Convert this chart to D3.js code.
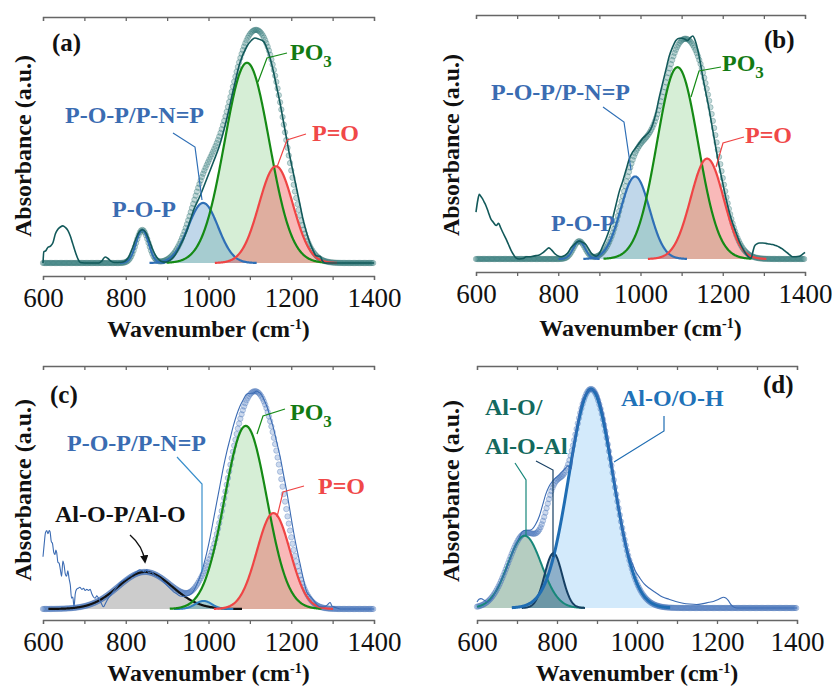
<!DOCTYPE html>
<html>
<head>
<meta charset="utf-8">
<script src="https://cdn.jsdelivr.net/npm/d3@7"></script>
<style>
  body { margin: 0; background: #fff; }
  svg { display: block; }
  text { font-family: "Liberation Serif", "Times New Roman", serif; }
</style>
</head>
<body>
<svg id="fig" width="832" height="688"></svg>
<script>
// ---- Wavenumber axis (cm-1) ----
const xDomain = [600, 1400];
const xTicks = [600, 800, 1000, 1200, 1400];
const xMinorTicks = [700, 900, 1100, 1300];

// ---- (a) measured spectrum [wavenumber, normalised absorbance] ----
const specA = [[600,0],[602,0.05],[607,0.055],[612,0.07],[618,0.075],[624,0.09],[630,0.13],[636,0.15],[642,0.16],[648,0.165],[654,0.158],[660,0.145],[666,0.12],[672,0.085],[678,0.05],[684,0.02],[690,0.002],[700,0],[735,0],[742,0.008],[750,0.027],[757,0.02],[764,0.008],[772,0.002],[790,0.003],[805,0.02],[815,0.06],[825,0.11],[833,0.14],[840,0.148],[848,0.138],[856,0.105],[865,0.06],[875,0.025],[885,0.008],[895,0.004],[905,0.01],[915,0.025],[930,0.07],[947,0.14],[965,0.24],[980,0.30],[995,0.37],[1012,0.45],[1028,0.53],[1044,0.64],[1060,0.77],[1076,0.89],[1092,0.96],[1104,0.99],[1112,1.0],[1122,0.995],[1133,0.985],[1142,0.95],[1149,0.91],[1157,0.85],[1165,0.78],[1173,0.71],[1181,0.63],[1189,0.55],[1197,0.47],[1205,0.40],[1213,0.33],[1221,0.26],[1229,0.19],[1237,0.135],[1245,0.09],[1253,0.055],[1260,0.032],[1266,0.03],[1270,0.03],[1275,0.01],[1282,0],[1400,0]];
// (a) fitted bands: P-O-P, P-O-P/P-N=P, PO3, P=O
const bandCenterA = [840, 987, 1093, 1163];
const bandHeightA = [0.147, 0.267, 0.89, 0.43];
const bandSigmaA  = [15, 36, 54, 41];

// ---- (b) ----
const specB = [[600,0.21],[604,0.26],[608,0.29],[612,0.28],[616,0.27],[620,0.255],[624,0.24],[630,0.21],[636,0.18],[642,0.165],[649,0.15],[655,0.16],[660,0.14],[665,0.12],[673,0.09],[679,0.065],[685,0.04],[691,0.02],[697,0.005],[705,0],[715,0.002],[722,0.01],[730,0.01],[738,0.012],[746,0.015],[754,0.018],[762,0.027],[770,0.04],[777,0.05],[784,0.04],[790,0.027],[798,0.015],[807,0.01],[815,0.015],[823,0.027],[831,0.05],[839,0.065],[845,0.075],[851,0.08],[859,0.075],[867,0.065],[874,0.045],[880,0.027],[886,0.018],[892,0.012],[900,0.025],[908,0.057],[916,0.09],[924,0.13],[932,0.18],[940,0.24],[948,0.30],[957,0.35],[965,0.40],[973,0.45],[981,0.48],[989,0.50],[997,0.52],[1005,0.54],[1013,0.555],[1021,0.57],[1029,0.60],[1037,0.65],[1045,0.72],[1054,0.79],[1062,0.85],[1070,0.91],[1078,0.95],[1086,0.98],[1094,0.99],[1102,0.99],[1108,0.985],[1114,0.98],[1120,0.99],[1127,1.0],[1133,0.98],[1139,0.94],[1145,0.885],[1151,0.82],[1159,0.745],[1167,0.67],[1175,0.585],[1183,0.50],[1191,0.42],[1200,0.34],[1208,0.27],[1216,0.21],[1224,0.16],[1232,0.12],[1240,0.08],[1248,0.05],[1254,0.03],[1260,0.015],[1265,0.006],[1269,0.004],[1273,0.03],[1277,0.057],[1283,0.068],[1289,0.072],[1297,0.072],[1305,0.07],[1313,0.067],[1321,0.065],[1329,0.06],[1337,0.054],[1345,0.045],[1353,0.033],[1362,0.02],[1370,0.01],[1378,0.01],[1386,0.012],[1393,0.02],[1400,0.03]];
const bandCenterB = [851, 987, 1090, 1162];
const bandHeightB = [0.08, 0.37, 0.86, 0.45];
const bandSigmaB  = [14, 35, 50, 40];

// ---- (c) ----
const specC = [[600,0.24],[603,0.30],[606,0.35],[609,0.36],[612,0.345],[615,0.36],[617,0.355],[620,0.31],[623,0.30],[626,0.26],[629,0.25],[631,0.27],[633,0.26],[636,0.215],[639,0.21],[642,0.18],[645,0.15],[648,0.22],[651,0.2],[654,0.16],[657,0.15],[660,0.175],[663,0.14],[666,0.11],[669,0.05],[672,0.055],[675,0.01],[678,0.07],[681,0.09],[685,0.095],[689,0.1],[694,0.09],[698,0.095],[702,0.085],[706,0.09],[710,0.085],[714,0.09],[718,0.07],[722,0.055],[726,0.05],[730,0.06],[734,0.05],[740,0.03],[746,0.01],[752,0.03],[758,0.05],[764,0.065],[770,0.08],[778,0.1],[786,0.12],[794,0.13],[802,0.14],[810,0.15],[818,0.16],[826,0.17],[834,0.18],[840,0.175],[846,0.17],[851,0.18],[856,0.165],[862,0.17],[867,0.16],[875,0.15],[883,0.14],[891,0.125],[899,0.11],[907,0.095],[915,0.08],[923,0.07],[931,0.06],[939,0.058],[947,0.06],[955,0.065],[963,0.08],[971,0.11],[980,0.15],[988,0.2],[996,0.26],[1004,0.33],[1012,0.41],[1020,0.49],[1028,0.57],[1036,0.65],[1044,0.72],[1052,0.78],[1060,0.84],[1068,0.89],[1076,0.93],[1084,0.96],[1092,0.985],[1100,0.99],[1108,0.99],[1112,0.995],[1117,1.0],[1121,0.995],[1125,0.99],[1133,0.965],[1141,0.93],[1149,0.88],[1157,0.83],[1165,0.765],[1173,0.70],[1181,0.62],[1189,0.54],[1197,0.45],[1205,0.36],[1213,0.28],[1221,0.21],[1229,0.14],[1237,0.08],[1245,0.06],[1254,0.04],[1262,0.02],[1270,0.01],[1280,0.01],[1288,0.02],[1294,0.03],[1298,0.015],[1302,0.01],[1310,0.005],[1318,0],[1400,0]];
// Al-O-P/Al-O, P-O-P/P-N=P, PO3, P=O
const bandCenterC = [847, 988, 1090, 1157];
const bandHeightC = [0.17, 0.037, 0.84, 0.44];
const bandSigmaC  = [65, 20, 51, 40];

// ---- (d) ----
const specD = [[600,0.027],[605,0.04],[610,0.043],[614,0.04],[618,0.035],[623,0.03],[627,0.027],[633,0.035],[640,0.05],[648,0.08],[656,0.11],[664,0.14],[672,0.17],[680,0.21],[688,0.25],[697,0.29],[705,0.32],[714,0.35],[722,0.355],[730,0.355],[738,0.36],[746,0.38],[756,0.42],[764,0.47],[772,0.52],[780,0.555],[789,0.58],[797,0.595],[806,0.61],[814,0.625],[822,0.64],[828,0.65],[832,0.63],[836,0.64],[839,0.70],[845,0.78],[852,0.85],[858,0.91],[864,0.95],[871,0.975],[877,0.99],[885,1.0],[891,0.995],[897,0.99],[904,0.965],[910,0.93],[916,0.885],[922,0.83],[929,0.76],[935,0.69],[941,0.615],[947,0.54],[954,0.46],[960,0.40],[966,0.34],[972,0.29],[980,0.24],[989,0.20],[997,0.165],[1006,0.14],[1018,0.11],[1031,0.09],[1047,0.07],[1064,0.05],[1080,0.04],[1097,0.03],[1115,0.022],[1131,0.018],[1149,0.016],[1165,0.02],[1180,0.026],[1191,0.03],[1200,0.036],[1208,0.043],[1216,0.049],[1222,0.046],[1228,0.035],[1235,0.015],[1242,0.004],[1250,0],[1400,0]];
// Al-O/O-H, Al-O/Al-O-Al (two bands)
const bandCenterD = [885, 719, 791];
const bandHeightD = [1.0, 0.33, 0.25];
const bandSigmaD  = [55, 42, 22];

// ---------------------------------------------------------------
const gauss = (x, c, h, s) => h * Math.exp(-((x - c) ** 2) / (2 * s * s));
const fitStep = 3;

const teal = { line: "#12595a", dotFill: "#3d8585", dotStroke: "#2b6e6e" };
const blueD = { line: "#3b6bb3", dotFill: "#5b86c6", dotStroke: "#3e6cb0" };

const panels = [
  {
    spec: specA, centers: bandCenterA, heights: bandHeightA, sigmas: bandSigmaA,
    x0: 43, x1: 374, base: 263, top: 38, axTop: 17, axBot: 276,
    style: teal, lineW: 1.6,
    bands: [
      { stroke: "#2f6fb6", fill: null, w: 2 },
      { stroke: "#2f6fb6", fill: "rgba(90,150,200,0.38)", w: 2.2 },
      { stroke: "#158a15", fill: "rgba(120,200,120,0.30)", w: 2.2 },
      { stroke: "#ef4545", fill: "rgba(240,70,70,0.38)", w: 2.2 }
    ],
    fillOrder: [2, 1, 3], lineOrder: [0, 1, 2, 3],
    tag: { t: "(a)", x: 52, y: 51 },
    labels: [
      { parts: [["P-O-P/P-N=P"]], x: 65, y: 123, c: "#3a6cb2" },
      { parts: [["P-O-P"]], x: 112, y: 217, c: "#3a6cb2" },
      { parts: [["PO"], ["3", true]], x: 290, y: 60, c: "#137a13" },
      { parts: [["P=O"]], x: 312, y: 141, c: "#f04848" }
    ],
    leaders: [
      { p: [[173,133],[195,147],[202,200]], c: "#2f6fb6" },
      { p: [[287,53],[267,58],[258,82]], c: "#158a15" },
      { p: [[306,134],[287,140],[277,167]], c: "#ef4545" }
    ],
    ylab: { x: 31, y: 146 }, xlabY: 337
  },
  {
    spec: specB, centers: bandCenterB, heights: bandHeightB, sigmas: bandSigmaB,
    x0: 476, x1: 805, base: 259, top: 36, axTop: 15, axBot: 272,
    style: teal, lineW: 1.6,
    bands: [
      { stroke: "#2f6fb6", fill: null, w: 2 },
      { stroke: "#2f6fb6", fill: "rgba(90,150,200,0.38)", w: 2.2 },
      { stroke: "#158a15", fill: "rgba(120,200,120,0.30)", w: 2.2 },
      { stroke: "#ef4545", fill: "rgba(240,70,70,0.38)", w: 2.2 }
    ],
    fillOrder: [2, 1, 3], lineOrder: [0, 1, 2, 3],
    tag: { t: "(b)", x: 764, y: 48 },
    labels: [
      { parts: [["P-O-P/P-N=P"]], x: 491, y: 100, c: "#3a6cb2" },
      { parts: [["P-O-P"]], x: 551, y: 231, c: "#3a6cb2" },
      { parts: [["PO"], ["3", true]], x: 722, y: 71, c: "#137a13" },
      { parts: [["P=O"]], x: 745, y: 143, c: "#f04848" }
    ],
    leaders: [
      { p: [[603,107],[624,122],[631,170]], c: "#2f6fb6" },
      { p: [[721,67],[699,71],[691,97]], c: "#158a15" },
      { p: [[744,137],[723,143],[716,167]], c: "#ef4545" }
    ],
    ylab: { x: 459, y: 145 }, xlabY: 336
  },
  {
    spec: specC, centers: bandCenterC, heights: bandHeightC, sigmas: bandSigmaC,
    x0: 43, x1: 374, base: 609, top: 391, axTop: 366, axBot: 620,
    style: blueD, lineW: 1.1,
    bands: [
      { stroke: "#111111", fill: "rgba(120,120,120,0.38)", w: 2.2 },
      { stroke: "#2f7fc0", fill: "rgba(90,150,200,0.38)", w: 2 },
      { stroke: "#158a15", fill: "rgba(120,200,120,0.30)", w: 2.2 },
      { stroke: "#ef4545", fill: "rgba(240,70,70,0.38)", w: 2.2 }
    ],
    fillOrder: [0, 2, 1, 3], lineOrder: [0, 1, 2, 3],
    tag: { t: "(c)", x: 50, y: 403 },
    labels: [
      { parts: [["P-O-P/P-N=P"]], x: 67, y: 451, c: "#3a6cb2" },
      { parts: [["PO"], ["3", true]], x: 290, y: 420, c: "#137a13" },
      { parts: [["P=O"]], x: 318, y: 494, c: "#f04848" },
      { parts: [["Al-O-P/Al-O"]], x: 55, y: 522, c: "#111111" }
    ],
    leaders: [
      { p: [[177,457],[202,484],[202,572]], c: "#3a8fcc" },
      { p: [[285,409],[263,416],[257,434]], c: "#158a15" },
      { p: [[304,486],[283,492],[277,517]], c: "#ef4545" }
    ],
    arrow: "M130,535 Q143,546 145,562",
    ylab: { x: 31, y: 490 }, xlabY: 681
  },
  {
    spec: specD, centers: bandCenterD, heights: bandHeightD, sigmas: bandSigmaD,
    x0: 477, x1: 797, base: 608, top: 389, axTop: 366, axBot: 620,
    style: blueD, lineW: 1.1,
    bands: [
      { stroke: "#1f6db3", fill: "rgba(140,200,245,0.38)", w: 3 },
      { stroke: "#17877a", fill: "rgba(70,130,100,0.40)", w: 2 },
      { stroke: "#163f63", fill: "rgba(40,90,130,0.40)", w: 2 }
    ],
    fillOrder: [0, 1, 2], lineOrder: [1, 2, 0],
    tag: { t: "(d)", x: 763, y: 393 },
    labels: [
      { parts: [["Al-O/O-H"]], x: 621, y: 406, c: "#1f72b8" },
      { parts: [["Al-O/"]], x: 485, y: 415, c: "#13695e" },
      { parts: [["Al-O-Al"]], x: 485, y: 454, c: "#13695e" }
    ],
    leaders: [
      { p: [[664,416],[664,431],[614,462]], c: "#1f6db3" },
      { p: [[515,463],[526,480],[526,536]], c: "#17877a" },
      { p: [[536,461],[553,470],[553,557]], c: "#163f63" }
    ],
    ylab: { x: 459, y: 491 }, xlabY: 681
  }
];

const svg = d3.select("#fig");
const defs = svg.append("defs");
defs.append("marker").attr("id", "arrowHead")
  .attr("viewBox", "0 0 10 10").attr("refX", 8).attr("refY", 5)
  .attr("markerWidth", 6).attr("markerHeight", 6).attr("orient", "auto")
  .append("path").attr("d", "M0,0 L10,5 L0,10 z").attr("fill", "#111");

panels.forEach(P => {
  const x = d3.scaleLinear().domain(xDomain).range([P.x0, P.x1]);
  const y = d3.scaleLinear().domain([0, 1]).range([P.base, P.top]);
  const g = svg.append("g");

  // fitted bands and cumulative fit
  const grid = d3.range(xDomain[0], xDomain[1] + 0.001, fitStep);
  const bandCurve = i => {
    const c = P.centers[i], s = P.sigmas[i];
    const lo = Math.max(xDomain[0], c - 3.6 * s), hi = Math.min(xDomain[1], c + 3.6 * s);
    return d3.range(lo, hi + 0.001, 1).map(w => [w, gauss(w, c, P.heights[i], s)]);
  };
  const fit = grid.map(w => [w, d3.sum(P.centers, (c, i) => gauss(w, c, P.heights[i], P.sigmas[i]))]);

  const area = d3.area().x(d => x(d[0])).y0(y(0)).y1(d => y(d[1]));
  const line = d3.line().x(d => x(d[0])).y(d => y(d[1]));

  P.fillOrder.forEach(i => {
    if (!P.bands[i].fill) return;
    g.append("path").datum(bandCurve(i)).attr("d", area)
      .attr("fill", P.bands[i].fill).attr("stroke", "none");
  });

  // fit envelope as markers
  g.append("g").selectAll("circle").data(fit).join("circle")
    .attr("cx", d => x(d[0])).attr("cy", d => y(d[1])).attr("r", 2.7)
    .attr("fill", P.style.dotFill).attr("fill-opacity", 0.3)
    .attr("stroke", P.style.dotStroke).attr("stroke-opacity", 0.4).attr("stroke-width", 0.8);

  P.lineOrder.forEach(i => {
    g.append("path").datum(bandCurve(i)).attr("d", line)
      .attr("fill", "none").attr("stroke", P.bands[i].stroke)
      .attr("stroke-width", P.bands[i].w).attr("stroke-linejoin", "round");
  });

  // measured spectrum
  g.append("path").datum(P.spec)
    .attr("d", d3.line().x(d => x(d[0])).y(d => y(d[1])).curve(d3.curveMonotoneX))
    .attr("fill", "none").attr("stroke", P.style.line).attr("stroke-width", P.lineW)
    .attr("stroke-linejoin", "round");

  // axes: top frame line and bottom wavenumber axis, ticks pointing down
  const axColor = "#666";
  const topAx = g.append("g").attr("transform", `translate(0,${P.axTop})`)
    .call(d3.axisBottom(x).tickValues(xTicks.concat(xMinorTicks)).tickSize(4).tickSizeOuter(4).tickFormat(""));
  const botAx = g.append("g").attr("transform", `translate(0,${P.axBot})`)
    .call(d3.axisBottom(x).tickValues(xTicks).tickSize(4).tickSizeOuter(4).tickPadding(8).tickFormat(d3.format("d")));
  const botMinor = g.append("g").attr("transform", `translate(0,${P.axBot})`)
    .call(d3.axisBottom(x).tickValues(xMinorTicks).tickSize(4).tickSizeOuter(0).tickFormat(""));
  botMinor.select(".domain").remove();
  [topAx, botAx, botMinor].forEach(a => {
    a.selectAll("path,line").attr("stroke", axColor).attr("stroke-width", 1.3);
  });
  botAx.selectAll("text").attr("font-family", "Liberation Serif").attr("font-size", 27).attr("fill", "#111");

  // axis titles
  const xl = g.append("text").attr("x", (P.x0 + P.x1) / 2).attr("y", P.xlabY)
    .attr("text-anchor", "middle").attr("font-weight", "bold").attr("font-size", 24).attr("fill", "#111");
  xl.append("tspan").text("Wavenumber (cm");
  xl.append("tspan").text("-1").attr("font-size", 14).attr("dy", -8);
  xl.append("tspan").text(")").attr("dy", 8);

  g.append("text").attr("transform", `translate(${P.ylab.x},${P.ylab.y}) rotate(-90)`)
    .attr("text-anchor", "middle").attr("font-weight", "bold").attr("font-size", 24)
    .attr("fill", "#111").text("Absorbance (a.u.)");

  // panel tag
  g.append("text").attr("x", P.tag.x).attr("y", P.tag.y).attr("font-weight", "bold")
    .attr("font-size", 25).attr("fill", "#111").text(P.tag.t);

  // leader lines
  P.leaders.forEach(L => {
    g.append("path").attr("d", d3.line()(L.p)).attr("fill", "none")
      .attr("stroke", L.c).attr("stroke-width", 1.2);
  });
  if (P.arrow) {
    g.append("path").attr("d", P.arrow).attr("fill", "none").attr("stroke", "#111")
      .attr("stroke-width", 1.4).attr("marker-end", "url(#arrowHead)");
  }

  // band labels
  P.labels.forEach(L => {
    const t = g.append("text").attr("x", L.x).attr("y", L.y).attr("font-weight", "bold")
      .attr("font-size", 24).attr("fill", L.c);
    L.parts.forEach(([s, sub]) => {
      const ts = t.append("tspan").text(s);
      if (sub) ts.attr("font-size", 17).attr("dy", 7);
    });
  });
});
</script>
</body>
</html>
